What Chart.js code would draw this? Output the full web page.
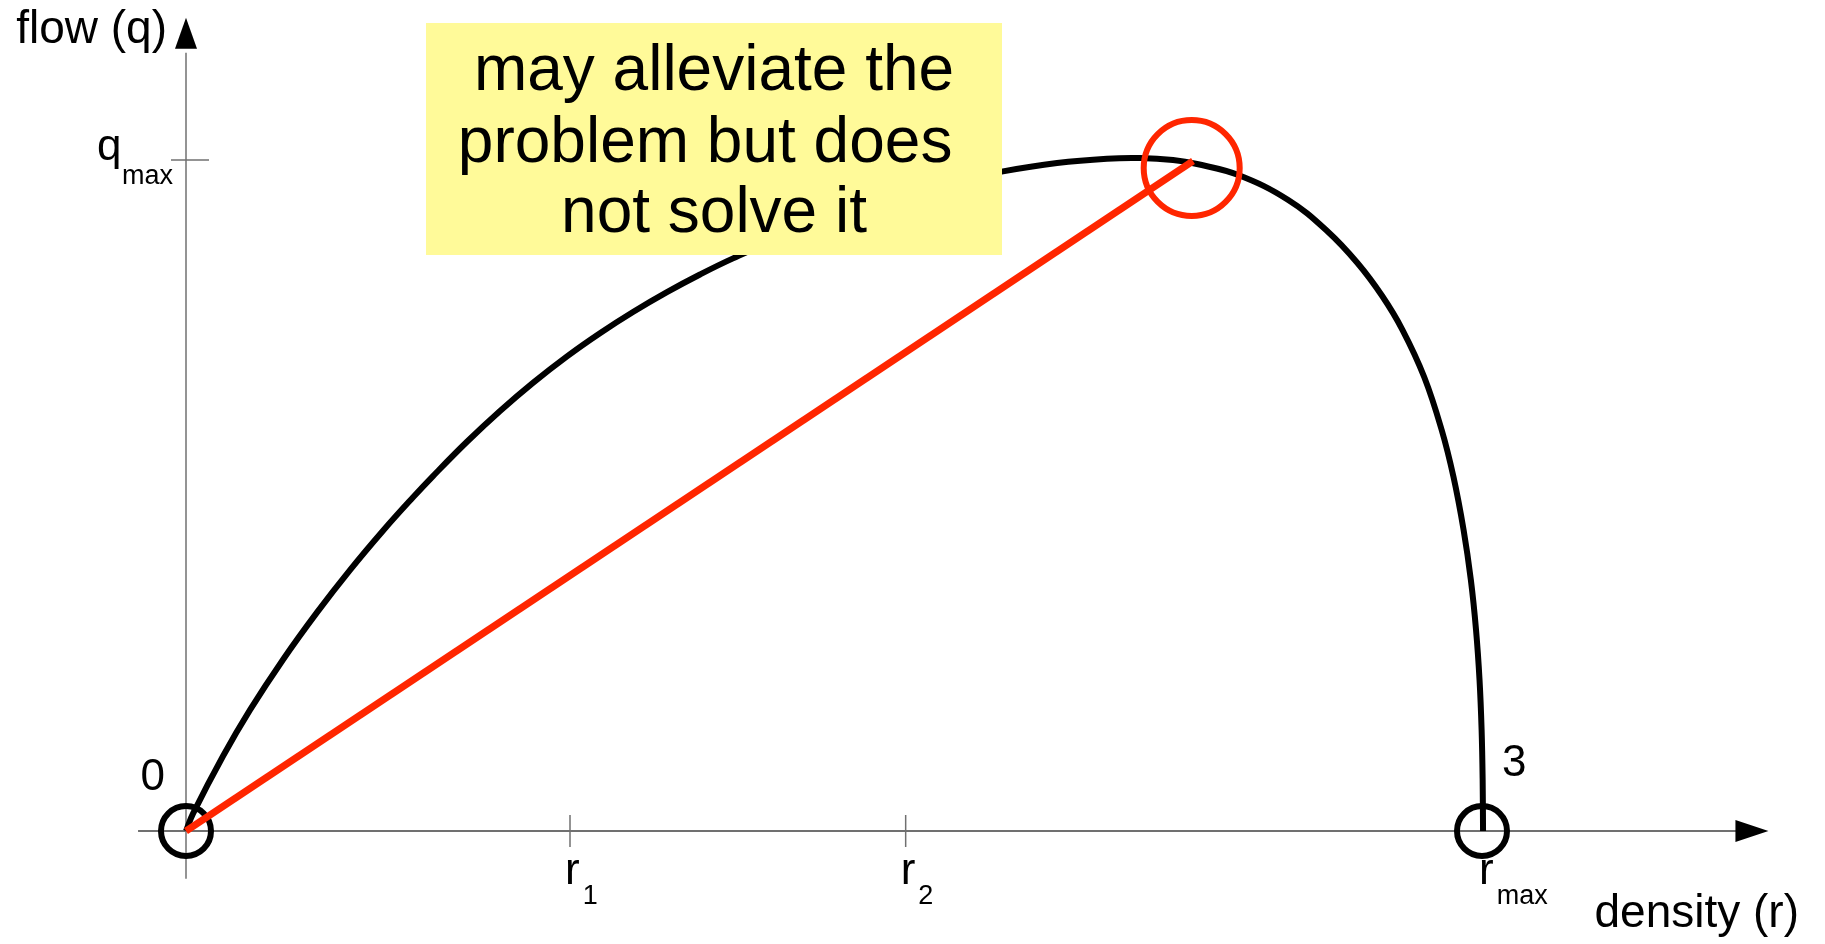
<!DOCTYPE html>
<html>
<head>
<meta charset="utf-8">
<title>flow vs density</title>
<script src="https://cdn.jsdelivr.net/npm/chart.js@4.4.1/dist/chart.umd.min.js"></script>
<style>
    html, body { margin: 0; padding: 0; background: #ffffff; }
    #wrap { width: 1825px; height: 944px; }
</style>
</head>
<body>
<div id="wrap"><canvas id="fdChart" width="1825" height="944"></canvas></div>
<script>
// fundamental diagram: flow against density (rmax = 100, qmax = 100)
const densityValues = [0, 0.54, 2.85, 4.94, 7.48, 10.11, 12.65, 15.20, 17.52, 19.06, 21.68, 24.23,
    26.77, 29.40, 31.94, 34.49, 37.11, 39.66, 42.21, 47.38, 52.78, 58.18, 63.04, 67.21, 71.06,
    73.61, 76.16, 78.01, 81.20, 85.05, 88.05, 90.39, 92.30, 93.87, 95.54, 96.89, 97.80, 98.58,
    99.14, 99.54, 99.81, 99.97, 100.05, 100.08];
const flowValues = [0, 2.59, 11.14, 18.04, 25.53, 32.58, 38.88, 44.75, 49.74, 52.90, 58.01, 62.60,
    66.79, 70.74, 74.19, 77.35, 80.31, 82.94, 85.34, 89.68, 93.41, 96.33, 98.3, 99.55, 100.2,
    100.3, 100.0, 99.40, 97.76, 94.04, 89.42, 84.65, 79.73, 74.66, 67.66, 59.76, 52.76, 44.86,
    37.41, 29.96, 22.50, 15.05, 7.60, 0];

// straight chord from the origin up to the peak
const chordDensity = [0, 77.7];
const chordFlow = [0, 99.85];

// marked states on the curve
const markDensity = [0, 100];
const markFlow = [0, 0];
const markLabels = ['0', '3'];
const peakDensity = 77.6;
const peakFlow = 98.8;

// axis ticks
const xTickValues = [29.63, 55.53];
const xTickSubs = ['1', '2'];
const rMax = 100;
const qMax = 100;

const noteLines = ['may alleviate the', 'problem but does ', 'not solve it'];

const FONT = '"Liberation Sans", Arial, sans-serif';

function toPoints(xs, ys) {
    return xs.map((x, i) => ({ x: x, y: ys[i] }));
}

// axes with arrows, ticks and labels, drawn under the datasets
const axesPlugin = {
    id: 'axes',
    beforeDatasetsDraw(chart) {
        const c = chart.ctx;
        const xs = chart.scales.x;
        const ys = chart.scales.y;
        const ox = xs.getPixelForValue(0);
        const oy = ys.getPixelForValue(0);

        c.save();
        c.strokeStyle = '#707070';

        // x axis
        c.lineWidth = 2;
        c.beginPath();
        c.moveTo(xs.getPixelForValue(-3.7), oy);
        c.lineTo(xs.getPixelForValue(120), oy);
        c.stroke();
        // y axis
        c.lineWidth = 1.5;
        c.beginPath();
        c.moveTo(ox, ys.getPixelForValue(-7.1));
        c.lineTo(ox, ys.getPixelForValue(116));
        c.stroke();

        // arrow heads
        const xTip = xs.getPixelForValue(122.1);
        const yTip = ys.getPixelForValue(121.2);
        c.fillStyle = '#000000';
        c.beginPath();
        c.moveTo(xTip, oy);
        c.lineTo(xTip - 33, oy - 11);
        c.lineTo(xTip - 33, oy + 11);
        c.closePath();
        c.fill();
        c.beginPath();
        c.moveTo(ox, yTip);
        c.lineTo(ox - 11, yTip + 31);
        c.lineTo(ox + 11, yTip + 31);
        c.closePath();
        c.fill();

        // tick marks
        c.strokeStyle = '#707070';
        c.lineWidth = 1.5;
        xTickValues.forEach(v => {
            const px = xs.getPixelForValue(v);
            c.beginPath();
            c.moveTo(px, oy - 16);
            c.lineTo(px, oy + 16);
            c.stroke();
        });
        const qy = ys.getPixelForValue(qMax);
        c.beginPath();
        c.moveTo(ox - 15, qy);
        c.lineTo(ox + 23, qy);
        c.stroke();

        c.fillStyle = '#000000';
        c.textBaseline = 'alphabetic';

        // axis titles
        c.font = '46px ' + FONT;
        c.textAlign = 'right';
        c.fillText('flow (q)', ox - 19, yTip + 25);
        c.fillText('density (r)', 1799, oy + 96);

        // q max label
        c.textAlign = 'left';
        c.font = '44px ' + FONT;
        c.fillText('q', ox - 89, qy);
        c.font = '27px ' + FONT;
        c.fillText('max', ox - 64, qy + 24);

        // r labels under the x axis
        const rLabel = (px, sub) => {
            c.font = '44px ' + FONT;
            c.fillText('r', px - 5, oy + 53);
            const w = c.measureText('r').width;
            c.font = '27px ' + FONT;
            c.fillText(sub, px - 5 + w + 3, oy + 73);
        };
        xTickValues.forEach((v, i) => rLabel(xs.getPixelForValue(v), xTickSubs[i]));
        rLabel(xs.getPixelForValue(rMax) + 2, 'max');

        c.restore();
    },
    afterDatasetsDraw(chart) {
        const c = chart.ctx;
        const xs = chart.scales.x;
        const ys = chart.scales.y;

        c.save();
        // state numbers next to the rings
        c.fillStyle = '#000000';
        c.font = '44px ' + FONT;
        c.textAlign = 'right';
        c.fillText(markLabels[0], xs.getPixelForValue(markDensity[0]) - 21, ys.getPixelForValue(markFlow[0]) - 41);
        c.textAlign = 'left';
        c.fillText(markLabels[1], xs.getPixelForValue(markDensity[1]) + 20, ys.getPixelForValue(markFlow[1]) - 55);

        // note box over the rising branch
        c.fillStyle = '#fffa99';
        c.fillRect(426, 23, 576, 232);
        c.fillStyle = '#000000';
        c.font = '64px ' + FONT;
        c.textAlign = 'center';
        const base = [90, 162, 232];
        noteLines.forEach((line, i) => c.fillText(line, 714, base[i]));
        c.restore();
    }
};

new Chart(document.getElementById('fdChart'), {
    data: {
        datasets: [
            {
                type: 'line',
                data: toPoints(chordDensity, chordFlow),
                borderColor: '#ff2600',
                borderWidth: 7,
                borderCapStyle: 'butt',
                pointRadius: 0,
                tension: 0
            },
            {
                type: 'scatter',
                data: [{ x: peakDensity, y: peakFlow }],
                pointRadius: 48,
                borderWidth: 6,
                borderColor: '#ff2600',
                backgroundColor: 'rgba(0,0,0,0)'
            },
            {
                type: 'scatter',
                data: toPoints(markDensity, markFlow),
                pointRadius: 25,
                borderWidth: 6,
                borderColor: '#000000',
                backgroundColor: 'rgba(0,0,0,0)'
            },
            {
                type: 'line',
                data: toPoints(densityValues, flowValues),
                borderColor: '#000000',
                borderWidth: 6,
                pointRadius: 0,
                tension: 0.4
            }
        ]
    },
    options: {
        responsive: false,
        animation: false,
        events: [],
        layout: { padding: 0, autoPadding: false },
        plugins: {
            legend: { display: false },
            tooltip: { enabled: false }
        },
        scales: {
            x: { type: 'linear', min: -14.352, max: 126.466, display: false },
            y: { type: 'linear', min: -16.841, max: 123.845, display: false }
        }
    },
    plugins: [axesPlugin]
});
</script>
</body>
</html>
